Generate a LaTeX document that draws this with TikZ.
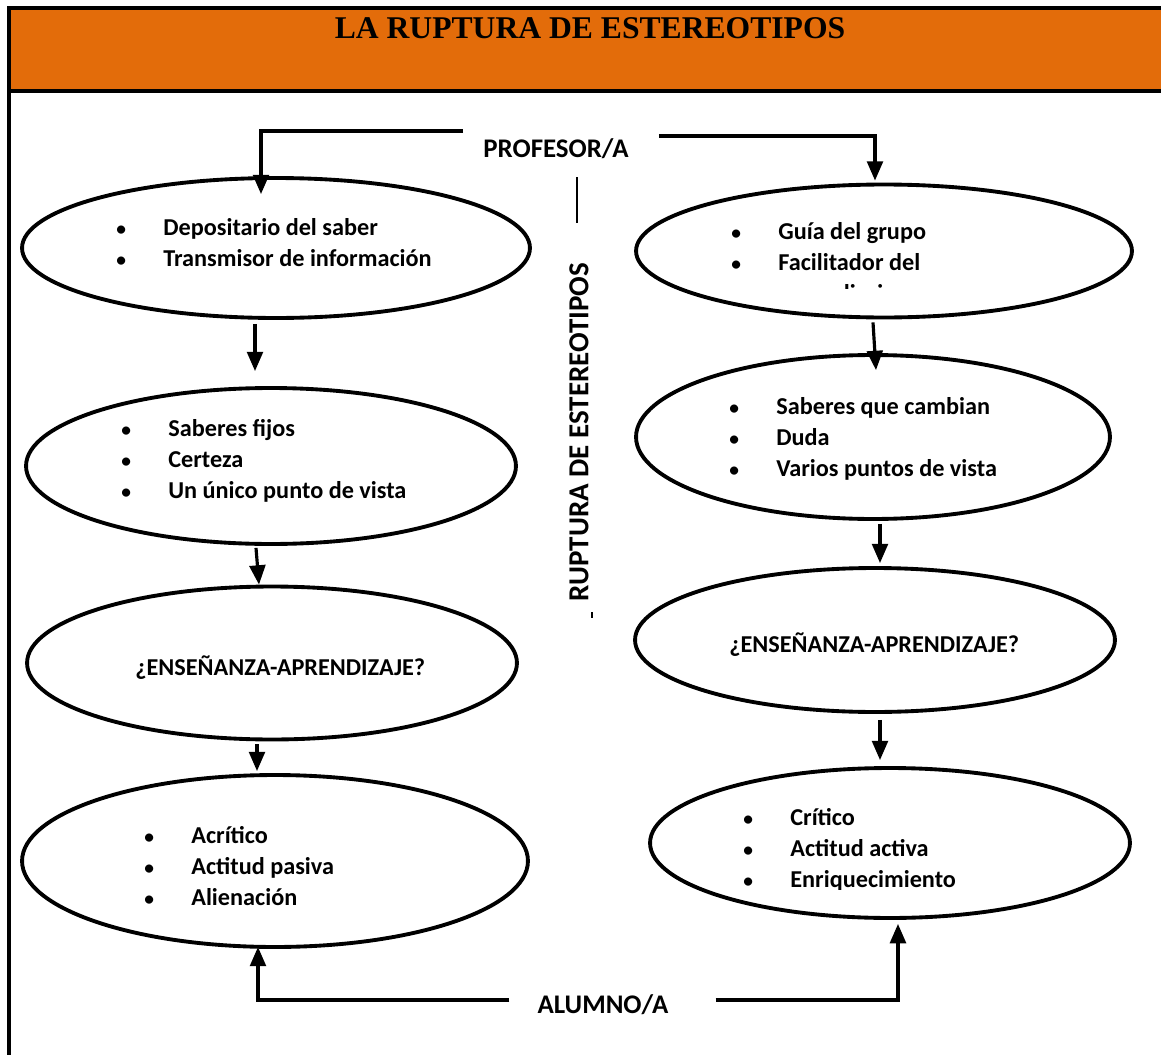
\documentclass[tikz,border=0pt]{standalone}
\usepackage{fontspec}
\setmainfont{Carlito}
\newfontfamily\titlefont{Liberation Serif}
\usetikzlibrary{calc,arrows.meta,shapes.geometric}
\definecolor{bandorange}{HTML}{E36C0A}
\newcommand\bodysize{\fontsize{13.8}{17.6}\selectfont}
\newcommand\bul{\makebox[0.94cm][l]{\scalebox{0.8}{\textbullet}}}
\newcommand\nobul{\makebox[0.94cm][l]{}}

\begin{document}
\begin{tikzpicture}[x=0.02cm, y=-0.02cm, >={Triangle[width=9pt,length=11pt]}]
	\tikzstyle{every node}=[font=\bodysize\bfseries, inner sep=0pt]
	\tikzstyle{oval}=[ellipse, draw, line width=2.2pt, inner sep=0pt]
	\tikzstyle{txt}=[align=left, anchor=west]
	\tikzstyle{role}=[font=\fontsize{15.3}{18}\selectfont\bfseries]
	\tikzstyle{arr}=[line width=1.8pt, ->]
	\useasboundingbox (0,0) rectangle (1161,1055);
	
	%title band
	\fill[bandorange] (9,8) rectangle (1161,91);
	\draw[line width=1.8pt] (1161,8) -- (9,8) -- (9,1055);
	\draw[line width=1.8pt] (9,91) -- (1161,91);
	\node[font=\titlefont\fontsize{18}{22}\selectfont\bfseries] (title) at (590,28) {LA RUPTURA DE ESTEREOTIPOS};
	
	%profesor, alumno
	\node[role] (prof) at (556,149) {PROFESOR/A};
	\node[role] (alumno) at (603,1005) {ALUMNO/A};
	
	%middle
	\node[rotate=90, font=\fontsize{16.5}{19}\selectfont\bfseries] (ruptura) at (579,432) {RUPTURA DE ESTEREOTIPOS};
	\draw[line width=0.9pt] (577,177) -- (577,223);
	\draw[line width=0.9pt] (592,612) -- (592,618);
	
	% left column
	\node[oval, minimum width=10.16cm, minimum height=2.8cm] (E1) at (276,248) {};
	\node[oval, minimum width=9.8cm, minimum height=3.12cm] (E2) at (271,466) {};
	\node[oval, minimum width=9.8cm, minimum height=3.06cm] (E3) at (272,663) {};
	\node[oval, minimum width=10.12cm, minimum height=3.44cm] (E4) at (275,861) {};
	
	\node[txt] (E1txt) at (116,243) {\bul Depositario del saber\\ \bul Transmisor de información};
	\node[txt] (E2txt) at (121,461) {\bul Saberes fijos\\ \bul Certeza\\ \bul Un único punto de vista};
	\node[txt] (E3txt) at (135,668) {¿ENSEÑANZA-APRENDIZAJE?};
	\node[txt] (E4txt) at (144,866) {\bul Acrítico\\ \bul Actitud pasiva\\ \bul Alienación};
	
	% right column
	\node[oval, minimum width=9.92cm, minimum height=2.66cm] (R1) at (884,251) {};
	\node[oval, minimum width=9.48cm, minimum height=3.28cm] (R2) at (873,437) {};
	\node[oval, minimum width=9.6cm, minimum height=2.88cm] (R3) at (875,640) {};
	\node[oval, minimum width=9.6cm, minimum height=3.0cm] (R4) at (890,843) {};
	
	\begin{scope}
		\clip (700,190) rectangle (1100,288); % text box cut
		\node[txt] (R1txt) at (731,264) {\bul Guía del grupo\\ \bul Facilitador del\\ \nobul aprendizaje};
	\end{scope}
	\node[txt] (R2txt) at (729,439) {\bul Saberes que cambian\\ \bul Duda\\ \bul Varios puntos de vista};
	\node[txt] (R3txt) at (729,645) {¿ENSEÑANZA-APRENDIZAJE?};
	\begin{scope}
		\clip (700,780) rectangle (1100,889); % text box cut
		\node[txt] (R4txt) at (743,850) {\bul Crítico\\ \bul Actitud activa\\ \bul Enriquecimiento};
	\end{scope}
	
	%connectors
	\draw[arr] ($(prof.west)+(-20,-18)$) -| ($(E1.north)+(-15,18)$);
	\draw[arr] ($(prof.east)+(30,-13)$) -| ($(R1.north)+(-9,-2)$);
	\draw[arr] ($(E1.south)+(-21,4)$) -- ($(E2.north)+(-16,-15)$);
	\draw[arr] ($(E2.south)+(-15,2)$) -- ($(E3.north)+(-13,0)$);
	\draw[arr] ($(E3.south)+(-15,3)$) -- ($(E4.north)+(-18,-2)$);
	\draw[arr] ($(R1.south)+(-11,3)$) -- ($(R2.north)+(3,17)$);
	\draw[arr] ($(R2.south)+(7,3)$) -- ($(R3.north)+(5,-3)$);
	\draw[arr] ($(R3.south)+(5,6)$) -- ($(R4.north)+(-10,-6)$);
	\draw[arr] ($(alumno.west)+(-28,-5)$) -| ($(E4.south)+(-17,-2)$);
	\draw[arr] ($(alumno.east)+(47,-5)$) -| ($(R4.south)+(8,4)$);
\end{tikzpicture}
\end{document}
